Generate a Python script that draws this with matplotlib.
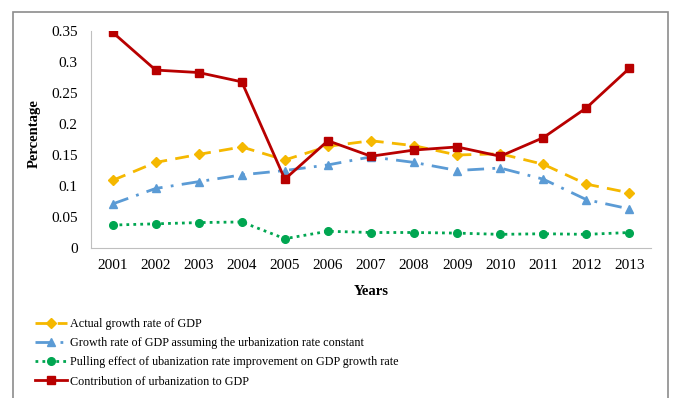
import numpy as np
import matplotlib
matplotlib.use('Agg')
from matplotlib import pyplot as plt
from matplotlib.patches import Rectangle

years = ['2001', '2002', '2003', '2004', '2005', '2006', '2007',
         '2008', '2009', '2010', '2011', '2012', '2013']
actual_gdp = [0.109, 0.138, 0.151, 0.163, 0.142, 0.164, 0.173,
              0.165, 0.150, 0.152, 0.135, 0.103, 0.089]
gdp_const_urban = [0.071, 0.096, 0.107, 0.118, 0.125, 0.134, 0.147,
                   0.138, 0.125, 0.129, 0.111, 0.078, 0.063]
pulling_effect = [0.037, 0.039, 0.041, 0.042, 0.015, 0.027, 0.025,
                  0.025, 0.024, 0.022, 0.023, 0.022, 0.025]
contribution = [0.348, 0.287, 0.283, 0.268, 0.111, 0.173, 0.148,
                0.158, 0.163, 0.148, 0.178, 0.226, 0.290]

labels = ['Actual growth rate of GDP',
          'Growth rate of GDP assuming the urbanization rate constant',
          'Pulling effect of ubanization rate improvement on GDP growth rate',
          'Contribution of urbanization to GDP']

plt.rcParams['font.family'] = ['Liberation Serif', 'DejaVu Serif']

fig = plt.figure(figsize=(6.75, 3.98), dpi=100)
fig.patches.append(Rectangle((13/675, -0.05), 655/675, 1 - 12/398 + 0.05,
                             transform=fig.transFigure, fill=False,
                             edgecolor='#8c8c8c', linewidth=1.2))
ax = fig.add_axes([91/675, 1-248/398, 560/675, 217/398])

x = np.arange(len(years))
ax.plot(x, actual_gdp, color='#f5b800', lw=2, ls=(0, (5, 3)), marker='D', ms=5.5)
ax.plot(x, gdp_const_urban, color='#5b9bd5', lw=2, ls=(0, (6, 3, 1, 3)), marker='^', ms=5.5)
ax.plot(x, pulling_effect, color='#00a651', lw=2, ls=(0, (1, 1.5)), marker='o', ms=5.5)
ax.plot(x, contribution, color='#b80000', lw=2, ls='-', marker='s', ms=5.5)

ax.set_xlim(-0.5, len(years) - 0.5)
ax.set_ylim(0, 0.35)
ax.set_xticks(x)
ax.set_xticklabels(years)
ax.set_yticks([0, 0.05, 0.1, 0.15, 0.2, 0.25, 0.3, 0.35])
ax.set_yticklabels(['0', '0.05', '0.1', '0.15', '0.2', '0.25', '0.3', '0.35'])
ax.tick_params(length=0, labelsize=11, pad=8)
ax.tick_params(axis='y', pad=9.5)
for s in ['top', 'right']:
    ax.spines[s].set_visible(False)
for s in ['left', 'bottom']:
    ax.spines[s].set_color('#bfbfbf')
ax.set_xlabel('Years', fontweight='bold', fontsize=10.5, labelpad=9)
ax.set_ylabel('Percentage', fontweight='bold', fontsize=10.5)
ax.yaxis.set_label_coords(-50/560, (248-134)/217)

handles = ax.get_lines()
fig.legend(handles, labels, loc='upper left', bbox_to_anchor=(30/675, 1-313/398),
           frameon=False, fontsize=8.7, handlelength=2.7, labelspacing=0.6,
           handletextpad=0.2, borderaxespad=0)

fig.savefig('out.png', dpi=100)
